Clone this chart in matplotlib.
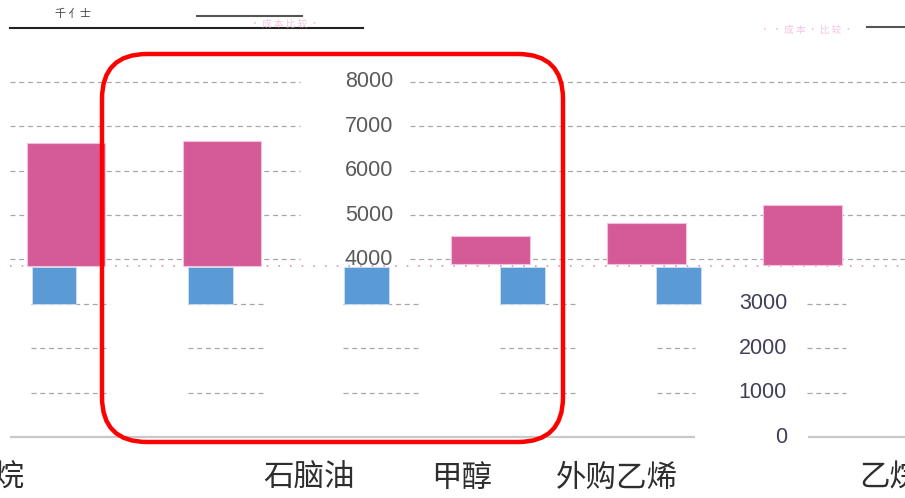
import matplotlib.pyplot as plt
from matplotlib.patches import FancyBboxPatch

plt.rcParams['font.family'] = ['Noto Sans CJK SC', 'DejaVu Sans']

# data
categories = ['丙烷', '石脑油', '甲醇', '外购乙烯', '乙烷']
blue_low = [3000, 3000, 3000, 3000, 3000]
blue_high = [3820, 3820, 3820, 3820, 3820]
pink_low = [3860, 3860, 3890, 3890, 3880]
pink_high = [6620, 6680, 4530, 4815, 5220]
upper_ticks = [4000, 5000, 6000, 7000, 8000]
lower_ticks = [0, 1000, 2000, 3000]

# layout (pixel -> data helpers)
W, H = 905, 498
def px2x(px):
    return (px - 54) / 156.1

def px2y(py):
    return (437 - py) / 44.375 * 1000

blue_pos = [0, 1, 2, 3, 4]
pink_pos = [px2x(p) for p in [66, 222, 490.5, 646.5, 802.5]]
label_pos = [px2x(p) for p in [-6, 309, 462, 617, 890]]

fig = plt.figure(figsize=(W / 100, H / 100), dpi=100)
ax = fig.add_axes([0, 0, 1, 1])
ax.set_xlim(px2x(0), px2x(W))
ax.set_ylim(px2y(H), px2y(0))
ax.axis('off')

dash = (0, (4, 3))
# upper grid
for t in upper_ticks:
    for a, b in [(10, 300), (410, 905)]:
        ax.hlines(t, px2x(a), px2x(b), colors='#a8a8a8', linestyles=dash, lw=0.9, zorder=1)
# lower grid, broken segments
for t in lower_ticks[1:]:
    for a, b in [(31, 110), (188, 265), (343, 420), (500, 578), (657, 695), (807, 846)]:
        ax.hlines(t, px2x(a), px2x(b), colors='#a8a8a8', linestyles=dash, lw=0.9, zorder=1)
for a, b in [(10, 695), (808, 905)]:
    ax.hlines(0, px2x(a), px2x(b), colors='#c8c8c8', lw=1.6, zorder=1)
ax.hlines(3850, px2x(10), px2x(905), colors='#e58cc0', linestyles=(0, (1, 6)), lw=1.2, zorder=1)

# bars
ax.bar(pink_pos, [h - l for h, l in zip(pink_high, pink_low)], bottom=pink_low,
       width=0.5, color='#d55a98', edgecolor='#f2c2dc', lw=0.8, zorder=3)
ax.bar(blue_pos, [h - l for h, l in zip(blue_high, blue_low)], bottom=blue_low,
       width=0.288, color='#5b9bd5', edgecolor='#cfe0f0', lw=0.6, zorder=3)

# tick labels
for t in upper_ticks:
    ax.text(px2x(393), t, str(t), ha='right', va='center', fontsize=15.5,
            family='Liberation Sans', color='#5a5a5a', zorder=4)
for t in lower_ticks:
    ax.text(px2x(787), t, str(t), ha='right', va='center', fontsize=15.5,
            family='Liberation Sans', color='#3f3f5a', zorder=4)

# category labels
for x, c in zip(label_pos, categories):
    ax.text(x, px2y(478), c, ha='center', va='center', fontsize=22,
            fontweight='medium', color='#2e2e2e', zorder=4)

# overlay in pixel coords for header lines and red frame
ov = fig.add_axes([0, 0, 1, 1])
ov.set_xlim(0, W)
ov.set_ylim(H, 0)
ov.axis('off')
ov.plot([197, 302], [16, 16], color='#555555', lw=1.5)
ov.plot([10, 363], [28, 28], color='#222222', lw=1.5)
ov.plot([867, 905], [27, 27], color='#555555', lw=1.5)
ov.text(55, 14, '千 亻士', fontsize=8, color='#444444', va='center')
ov.text(250, 24, '· 成 本 比 较 ·', fontsize=7, color='#e9a0d0', alpha=0.6, va='center')
ov.text(760, 30, '· · 成 本 · 比 较 ·', fontsize=7, color='#e9a0d0', alpha=0.6, va='center')
frame = FancyBboxPatch((102, 54), 461, 388, boxstyle='round,pad=0,rounding_size=45',
                       fill=False, edgecolor='#ff0000', lw=3.2, zorder=10)
ov.add_patch(frame)

fig.savefig('out.png', dpi=100)
